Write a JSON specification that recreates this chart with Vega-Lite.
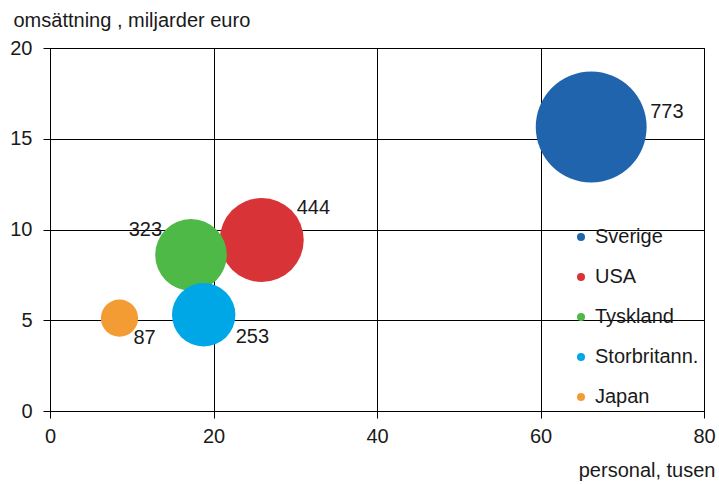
{
  "$schema": "https://vega.github.io/schema/vega-lite/v6.json",
  "width": 654,
  "height": 363,
  "autosize": "none",
  "padding": {"left": 50, "top": 48, "right": 15, "bottom": 73},
  "background": "white",
  "config": {
    "view": {"stroke": "#000000", "strokeWidth": 1},
    "font": "Liberation Sans",
    "axis": {
      "labelFont": "Liberation Sans",
      "labelFontSize": 20,
      "labelColor": "#1a1a1a",
      "titleFont": "Liberation Sans",
      "titleFontSize": 20,
      "titleFontWeight": "normal",
      "titleColor": "#1a1a1a",
      "gridColor": "#000000",
      "gridOpacity": 1,
      "gridWidth": 1,
      "domainColor": "#000000",
      "tickColor": "#000000",
      "tickSize": 7,
      "labelFlush": false
    },
    "legend": {
      "labelFont": "Liberation Sans",
      "labelFontSize": 20,
      "labelColor": "#1a1a1a"
    }
  },
  "data": {
    "values": [
      {"land": "Sverige", "personal": 66.2, "omsattning": 15.65, "storlek": 773},
      {"land": "USA", "personal": 25.9, "omsattning": 9.42, "storlek": 444},
      {"land": "Tyskland", "personal": 17.25, "omsattning": 8.6, "storlek": 323},
      {"land": "Storbritann.", "personal": 18.8, "omsattning": 5.3, "storlek": 253},
      {"land": "Japan", "personal": 8.5, "omsattning": 5.12, "storlek": 87}
    ]
  },
  "encoding": {
    "x": {
      "field": "personal", "type": "quantitative",
      "scale": {"domain": [0, 80], "nice": false},
      "axis": {
        "values": [0, 20, 40, 60, 80],
        "title": "personal, tusen",
        "titleAnchor": "end",
        "titleAlign": "right",
        "titleX": 665,
        "titleY": 59,
        "titleBaseline": "middle",
        "labelPadding": 8
      }
    },
    "y": {
      "field": "omsattning", "type": "quantitative",
      "scale": {"domain": [0, 20], "nice": false},
      "axis": {
        "values": [0, 5, 10, 15, 20],
        "title": "omsättning , miljarder euro",
        "titleAngle": 0,
        "titleAlign": "left",
        "titleBaseline": "middle",
        "titleX": -37,
        "titleY": -28,
        "labelPadding": 11
      }
    }
  },
  "layer": [
    {
      "mark": {"type": "circle", "opacity": 1},
      "encoding": {
        "size": {
          "field": "storlek", "type": "quantitative",
          "scale": {"domain": [0, 800], "range": [0, 12720], "zero": true},
          "legend": null
        },
        "color": {
          "field": "land", "type": "nominal",
          "scale": {
            "domain": ["Sverige", "USA", "Tyskland", "Storbritann.", "Japan"],
            "range": ["#1f64ac", "#d83437", "#4fb947", "#00a7e6", "#f39c34"]
          },
          "sort": null,
          "legend": {
            "title": null,
            "orient": "none",
            "legendX": 521,
            "legendY": 179,
            "padding": 0,
            "symbolType": "circle",
            "symbolSize": 64,
            "symbolStrokeWidth": 0,
            "labelOffset": 4,
            "rowPadding": 20
          }
        }
      }
    },
    {
      "transform": [{"filter": "datum.land === 'Sverige'"}],
      "mark": {"type": "text", "align": "left", "baseline": "middle", "dx": 59, "dy": -15, "fontSize": 20, "color": "#1a1a1a"},
      "encoding": {"text": {"field": "storlek", "type": "quantitative"}}
    },
    {
      "transform": [{"filter": "datum.land === 'USA'"}],
      "mark": {"type": "text", "align": "left", "baseline": "middle", "dx": 35, "dy": -32, "fontSize": 20, "color": "#1a1a1a"},
      "encoding": {"text": {"field": "storlek", "type": "quantitative"}}
    },
    {
      "transform": [{"filter": "datum.land === 'Tyskland'"}],
      "mark": {"type": "text", "align": "right", "baseline": "middle", "dx": -29, "dy": -25, "fontSize": 20, "color": "#1a1a1a"},
      "encoding": {"text": {"field": "storlek", "type": "quantitative"}}
    },
    {
      "transform": [{"filter": "datum.land === 'Storbritann.'"}],
      "mark": {"type": "text", "align": "left", "baseline": "middle", "dx": 32, "dy": 22, "fontSize": 20, "color": "#1a1a1a"},
      "encoding": {"text": {"field": "storlek", "type": "quantitative"}}
    },
    {
      "transform": [{"filter": "datum.land === 'Japan'"}],
      "mark": {"type": "text", "align": "left", "baseline": "middle", "dx": 14, "dy": 20, "fontSize": 20, "color": "#1a1a1a"},
      "encoding": {"text": {"field": "storlek", "type": "quantitative"}}
    }
  ]
}
